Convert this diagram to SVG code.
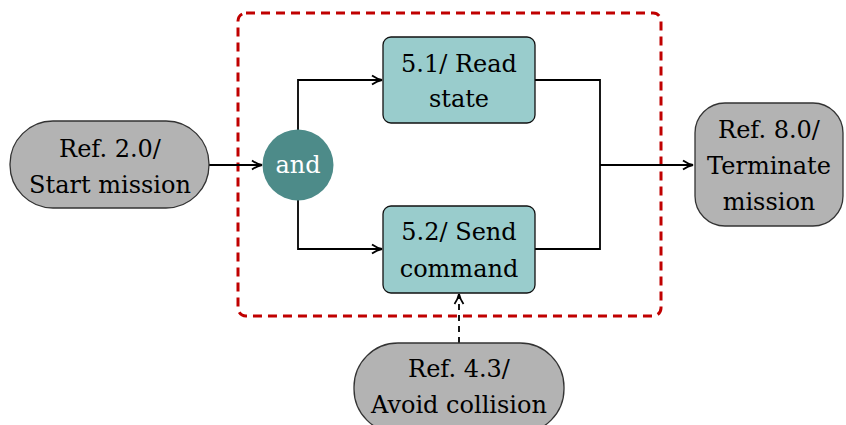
<svg xmlns="http://www.w3.org/2000/svg" width="846" height="425" viewBox="0 0 846 425">
<style>
text{font-family:"DejaVu Serif","Liberation Serif",serif;font-size:24px;text-anchor:middle;fill:#000}
.ext{fill:#b3b3b3;stroke:#333;stroke-width:1.3}
.fn{fill:#99cccc;stroke:#111;stroke-width:1.3}
.conn{fill:none;stroke:#000;stroke-width:1.8}
.dash{stroke-dasharray:6,5}
.grp{fill:none;stroke:#c00000;stroke-width:3;stroke-dasharray:9,6}
</style>
<defs>
<marker id="arr" viewBox="0 0 12 12" refX="11" refY="6" markerWidth="12" markerHeight="12" markerUnits="userSpaceOnUse" orient="auto">
<path d="M1,1.5 Q6,5 11,6 Q6,7 1,10.5" fill="none" stroke="#000" stroke-width="1.8"/>
</marker>
</defs>
<rect class="grp" x="238" y="13" width="423" height="303" rx="8"/>
<g id="connectors">
<path class="conn" d="M209,165 H262" marker-end="url(#arr)"/>
<path class="conn" d="M298,130 V80 H382" marker-end="url(#arr)"/>
<path class="conn" d="M298,200 V249 H382" marker-end="url(#arr)"/>
<path class="conn" d="M535,80 H600 V249 H535"/>
<path class="conn" d="M600,165 H693" marker-end="url(#arr)"/>
<path class="conn dash" d="M459,343 V294" marker-end="url(#arr)"/>
</g>
<g id="start">
<rect class="ext" x="10" y="121" width="199" height="87" rx="43"/>
<text x="110" y="157">Ref. 2.0/</text>
<text x="110" y="193">Start mission</text>
</g>
<g id="and">
<circle cx="298" cy="165" r="35.5" fill="#4d8b89"/>
<text x="298" y="173" style="fill:#fff">and</text>
</g>
<g id="n51">
<rect class="fn" x="383" y="37" width="152" height="86" rx="8"/>
<text x="459" y="72">5.1/ Read</text>
<text x="459" y="107">state</text>
</g>
<g id="n52">
<rect class="fn" x="383" y="206" width="152" height="87" rx="8"/>
<text x="459" y="240">5.2/ Send</text>
<text x="459" y="277">command</text>
</g>
<g id="terminate">
<rect class="ext" x="695" y="103" width="148" height="123" rx="30"/>
<text x="769" y="138">Ref. 8.0/</text>
<text x="769" y="174">Terminate</text>
<text x="769" y="210">mission</text>
</g>
<g id="avoid">
<rect class="ext" x="354" y="343" width="210" height="90" rx="44"/>
<text x="459" y="377">Ref. 4.3/</text>
<text x="459" y="413">Avoid collision</text>
</g>
</svg>
